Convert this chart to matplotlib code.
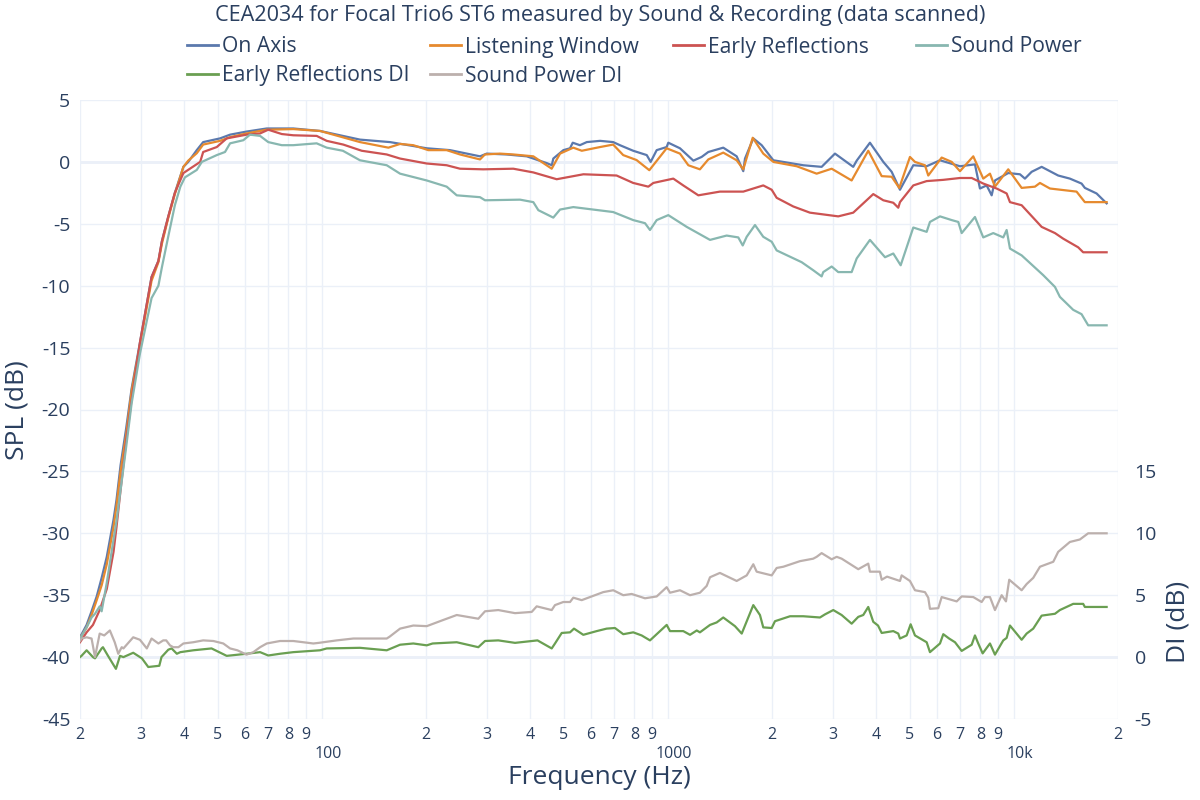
import matplotlib
matplotlib.use("Agg")
from matplotlib import pyplot as plt
from matplotlib.lines import Line2D
from matplotlib.transforms import ScaledTranslation

plt.rcParams['font.family'] = ['Open Sans', 'DejaVu Sans']
plt.rcParams['axes.unicode_minus'] = False

TEXT = '#2a3f5f'
GRID = '#ebf0f8'

title = "CEA2034 for Focal Trio6 ST6 measured by Sound & Recording (data scanned)"

# On Axis
on_axis_f = [20, 20.9, 21.6, 22.35, 23.1, 23.9, 25.0, 25.5, 26.2, 27.2,
             28.2, 29.8, 32.2, 33.7, 34.5, 36.0, 37.6, 39.8, 41.1, 43.5,
             45.4, 50.8, 54.3, 60.6, 69.3, 82.7, 98.8, 128.9, 157.4, 201,
             234.7, 286.5, 299.6, 342, 391, 408.5, 447, 462, 466.6, 499,
             521.5, 531, 557, 583, 637, 695, 727, 794, 869, 892,
             928.5, 992, 1003, 1084, 1185, 1252, 1309, 1446, 1581, 1652,
             1671, 1766, 1867, 2018, 2462, 2783, 3041, 3434, 3514, 3838,
             4195, 4435, 4687, 5121, 5598, 6117, 6988, 7720, 7981, 8345,
             8628, 8819, 9634, 10415, 10766, 11258, 12033, 13432, 14520, 15694,
             16042, 17343, 18543]
on_axis = [-38.4, -37.4, -36.3, -35.1, -33.6, -31.9, -28.9, -27.3, -24.5, -21.5,
           -18.3, -14.6, -9.3, -8.0, -6.4, -4.4, -2.5, -0.4, 0.0, 0.95,
           1.6, 1.9, 2.2, 2.45, 2.7, 2.7, 2.5, 1.8, 1.6, 1.1,
           0.95, 0.45, 0.67, 0.6, 0.45, 0.27, -0.1, -0.27, 0.27, 0.95,
           1.1, 1.55, 1.35, 1.6, 1.7, 1.6, 1.35, 0.9, 0.55, 0.0,
           0.95, 1.2, 1.55, 1.1, 0.1, 0.4, 0.8, 1.15, 0.45, -0.75,
           0.27, 1.9, 1.35, 0.13, -0.27, -0.4, 0.67, -0.4, 0.1, 1.55,
           0.0, -0.8, -2.25, -0.27, -0.35, 0.13, -0.35, -0.2, -2.15, -1.9,
           -2.7, -1.5, -0.9, -1.0, -1.35, -0.8, -0.4, -1.1, -1.35, -1.75,
           -2.1, -2.55, -3.35]

# Listening Window
lw_f = [20, 20.9, 21.6, 22.35, 23.1, 23.9, 25.0, 25.5, 26.2, 27.2,
        28.2, 29.8, 32.2, 33.7, 34.5, 36.0, 37.6, 39.8, 41.1, 43.5,
        45.4, 50.8, 54.3, 60.6, 69.3, 82.7, 98.8, 128.9, 155.7, 168.3,
        183.8, 203, 229.5, 250.8, 286.5, 296, 327, 358, 408.5, 461.7,
        488, 533, 564, 637, 695, 743, 812, 884, 992, 1084,
        1146, 1238, 1309, 1446, 1581, 1652, 1759, 1887, 2018, 2357,
        2692, 2975, 3398, 3795, 4150, 4435, 4665, 5009, 5179, 5535,
        5658, 6186, 6613, 6988, 7634, 8158, 8531, 8819, 9634, 10533,
        11507, 11898, 12716, 15180, 16042, 18543]
listening_window = [-38.5, -37.6, -36.6, -35.4, -34.2, -32.5, -29.5, -27.8, -25.0, -22.0,
                    -18.5, -14.8, -9.6, -8.1, -6.6, -4.5, -2.6, -0.4, 0.1, 0.7,
                    1.4, 1.7, 2.0, 2.3, 2.6, 2.65, 2.5, 1.6, 1.15, 1.45,
                    1.35, 0.95, 0.95, 0.6, 0.2, 0.6, 0.67, 0.6, 0.45, -0.55,
                    0.67, 1.15, 0.9, 1.2, 1.4, 0.55, 0.15, -0.67, 1.1, 0.67,
                    -0.27, -0.6, 0.2, 0.75, 0.13, -0.6, 1.95, 0.67, 0.0, -0.35,
                    -0.95, -0.55, -1.5, 0.9, -1.15, -1.2, -2.1, 0.4, 0.0, -0.27,
                    -1.1, 0.35, 0.0, -0.75, 0.45, -1.35, -0.95, -2.0, -0.6, -2.1,
                    -2.0, -1.7, -2.15, -2.4, -3.25, -3.25]

# Early Reflections
er_f = [20, 20.9, 21.8, 22.8, 23.9, 25.0, 25.5, 26.2, 27.2, 28.2,
        29.8, 32.2, 33.7, 34.5, 36.0, 37.6, 39.8, 44.5, 45.4, 49.7,
        53.1, 60.6, 66.3, 70.0, 76.6, 82.7, 96.6, 103.3, 115.3, 130.4,
        154, 168.3, 201, 229.5, 250.8, 292.8, 357.6, 408.5, 477.3, 510,
        570, 711, 794, 878, 908, 1037, 1108, 1225, 1414, 1652,
        1887, 1996, 2063, 2304, 2574, 3108, 3434, 3671, 3924, 4195,
        4483, 4634, 4687, 5121, 5598, 6253, 6988, 7553, 8158, 8919,
        9532, 9745, 10533, 12033, 13148, 13888, 15345, 15862, 18543]
early_reflections = [-38.8, -38.0, -37.4, -36.2, -34.5, -31.5, -29.5, -26.5, -22.5, -19.2,
                     -14.6, -9.3, -8.0, -6.4, -4.4, -2.5, -0.9, 0.0, 0.8, 1.2,
                     1.9, 2.2, 2.3, 2.6, 2.25, 2.15, 2.1, 1.7, 1.4, 0.9,
                     0.6, 0.27, -0.13, -0.27, -0.55, -0.6, -0.55, -0.85, -1.4, -1.25,
                     -1.0, -1.1, -1.7, -2.0, -1.7, -1.35, -1.9, -2.7, -2.4, -2.4,
                     -1.9, -2.25, -2.9, -3.6, -4.1, -4.4, -4.1, -3.35, -2.6, -3.1,
                     -3.3, -3.7, -3.25, -1.9, -1.55, -1.45, -1.3, -1.3, -1.75, -2.15,
                     -2.55, -3.25, -3.5, -5.25, -5.75, -6.2, -6.9, -7.3, -7.3]

# Sound Power
sp_f = [20, 20.9, 21.6, 22.1, 22.8, 23.1, 23.9, 25.0, 25.5, 26.2,
        27.2, 28.2, 29.8, 32.2, 33.7, 34.5, 36.0, 37.6, 39.0, 40.2,
        43.5, 45.0, 49.7, 52.5, 54.3, 59.3, 62.0, 66.3, 70.0, 76.6,
        82.7, 96.6, 103.3, 115, 128.9, 154, 168.3, 201, 229.5, 245.4,
        286.5, 296.2, 373.9, 408.5, 422.4, 466.6, 487.9, 533, 695, 794,
        859, 888, 928.5, 1003, 1134, 1324, 1479, 1598, 1646, 1690,
        1786, 1887, 1996, 2063, 2436, 2631, 2783, 2813, 2975, 3108,
        3398, 3514, 3838, 4243, 4483, 4709, 5121, 5598, 5722, 6117,
        6613, 6909, 7067, 7720, 8158, 8720, 9320, 9532, 9745, 10533,
        12161, 13148, 13584, 14844, 15694, 16400, 18543]
sound_power = [-38.5, -37.6, -36.8, -36.5, -35.9, -36.3, -34.0, -30.5, -29.0, -26.5,
               -23.0, -19.5, -15.5, -11.0, -10.0, -8.5, -6.0, -3.5, -2.0, -1.25,
               -0.65, 0.0, 0.55, 0.8, 1.5, 1.75, 2.2, 2.1, 1.6, 1.35,
               1.35, 1.5, 1.15, 0.9, 0.13, -0.27, -0.95, -1.5, -2.0, -2.7,
               -2.85, -3.1, -3.05, -3.25, -3.9, -4.5, -3.85, -3.65, -4.05, -4.7,
               -4.95, -5.5, -4.7, -4.3, -5.25, -6.3, -5.95, -6.1, -6.75, -6.05,
               -5.1, -6.05, -6.45, -7.15, -8.1, -8.75, -9.25, -8.9, -8.45, -8.9,
               -8.9, -7.8, -6.3, -7.7, -7.4, -8.35, -5.3, -5.65, -4.85, -4.4,
               -4.7, -4.85, -5.75, -4.45, -6.1, -5.75, -6.1, -5.5, -7.0, -7.55,
               -9.15, -10.1, -10.9, -11.95, -12.3, -13.2, -13.2]

# Early Reflections DI (right axis)
erdi_f = [20, 20.2, 20.9, 21.8, 22.1, 23.1, 23.3, 24.1, 25.4, 26.1,
          26.7, 28.5, 30.2, 31.5, 33.9, 34.4, 36.0, 36.8, 38.1, 39.0,
          42.5, 48.0, 53.1, 60.6, 66.3, 70.0, 75.7, 82.7, 98.8, 103.3,
          128.9, 154, 168.3, 183.8, 201, 209, 245.4, 283.3, 296.2, 323.6,
          361.7, 420, 461.7, 471.9, 493.5, 521.5, 535.5, 569.7, 622.8, 665.6,
          703.3, 743.3, 794.4, 840, 888, 992.4, 1014.5, 1108, 1159, 1212,
          1238, 1324, 1384, 1446, 1563, 1635, 1671, 1766, 1846, 1887,
          1996, 2040, 2255, 2462, 2752, 2845, 3007, 3179, 3398, 3551,
          3671, 3795, 3924, 4050, 4150, 4483, 4634, 4687, 4900, 5032,
          5179, 5598, 5722, 6117, 6253, 6500, 6760, 7067, 7553, 7720,
          7891, 8126, 8531, 8819, 9320, 9532, 9745, 10533, 10888, 11378,
          12033, 13148, 13584, 14844, 15862, 16042, 18543]
er_di = [0.0, 0.1, 0.55, 0.0, -0.1, 0.7, 0.8, 0.1, -0.95, 0.1,
         0.0, 0.35, -0.1, -0.8, -0.7, 0.0, 0.6, 0.7, 0.27, 0.4,
         0.55, 0.7, 0.1, 0.27, 0.4, 0.13, 0.27, 0.4, 0.55, 0.7,
         0.75, 0.55, 1.0, 1.1, 0.95, 1.1, 1.2, 0.8, 1.3, 1.35,
         1.15, 1.35, 0.7, 1.1, 1.95, 2.0, 2.3, 1.8, 2.1, 2.3,
         2.35, 1.85, 2.0, 1.75, 1.35, 2.6, 2.1, 2.1, 1.8, 2.15,
         2.0, 2.6, 2.8, 3.2, 2.5, 1.9, 2.55, 4.2, 3.4, 2.4,
         2.35, 2.9, 3.3, 3.3, 3.2, 3.45, 3.8, 3.4, 2.7, 3.25,
         3.4, 4.05, 2.85, 2.55, 1.95, 2.1, 1.9, 1.5, 1.75, 2.65,
         1.75, 1.2, 0.4, 1.1, 1.85, 1.5, 1.2, 0.5, 1.0, 1.75,
         1.1, 0.3, 1.1, 0.2, 1.35, 1.55, 2.55, 1.4, 1.9, 2.3,
         3.35, 3.5, 3.8, 4.3, 4.3, 4.05, 4.05]

# Sound Power DI (right axis)
spdi_f = [20, 20.2, 20.9, 21.6, 22.1, 22.8, 23.5, 24.4, 25.2, 25.8,
          26.4, 26.7, 28.5, 29.8, 31.2, 32.2, 33.7, 34.8, 35.5, 36.4,
          37.2, 38.5, 39.8, 42.5, 45.4, 48.6, 51.9, 54.3, 57, 60.6,
          63.4, 66.3, 69.3, 75.7, 82.7, 94.5, 98, 110.4, 123.3, 154,
          157, 168.3, 183.8, 201, 224.4, 234.7, 245.4, 283.3, 296.2, 323.6,
          361.7, 404.2, 417.8, 461.7, 471.9, 498.7, 521.5, 533, 563.7, 595.7,
          650.7, 695.4, 743.3, 786, 859, 928.5, 992.4, 1014.5, 1084, 1159,
          1238, 1295, 1324, 1414, 1581, 1690, 1766, 1806, 1996, 2063,
          2157, 2409, 2631, 2692, 2783, 2975, 3076, 3180, 3551, 3795,
          3838, 4100, 4150, 4300, 4687, 4740, 5009, 5179, 5535, 5658,
          5722, 6048, 6186, 6836, 7067, 7634, 8072, 8251, 8531, 8819,
          9222, 9489, 9698, 10533, 10888, 11378, 11898, 13000, 13432, 14520,
          15518, 16400, 18543]
sp_di = [1.3, 1.5, 1.6, 1.5, 0.0, 1.9, 1.75, 2.15, 1.2, 0.27,
         0.8, 0.7, 1.6, 1.4, 0.7, 1.5, 1.1, 1.35, 1.35, 0.95,
         0.8, 0.8, 1.1, 1.2, 1.35, 1.3, 1.1, 0.7, 0.55, 0.2,
         0.4, 0.8, 1.1, 1.3, 1.3, 1.1, 1.15, 1.35, 1.5, 1.5,
         1.65, 2.3, 2.55, 2.5, 3.0, 3.2, 3.4, 3.1, 3.7, 3.8,
         3.55, 3.65, 4.1, 3.8, 4.2, 4.45, 4.45, 4.8, 4.6, 4.85,
         5.25, 5.4, 5.0, 5.1, 4.75, 4.9, 5.65, 5.2, 5.4, 5.0,
         5.2, 5.75, 6.45, 6.8, 6.15, 6.6, 7.5, 6.9, 6.6, 7.2,
         7.3, 7.75, 7.95, 8.1, 8.4, 7.9, 8.1, 7.95, 7.1, 7.55,
         6.9, 6.9, 6.25, 6.5, 6.15, 6.6, 6.15, 5.4, 5.25, 4.8,
         3.9, 3.95, 4.85, 4.5, 4.9, 4.85, 4.45, 4.85, 4.85, 3.8,
         5.0, 4.5, 6.25, 5.4, 5.9, 6.4, 7.3, 7.7, 8.5, 9.3,
         9.5, 10.0, 10.0]

colors = ['#5b79ad', '#e68a2e', '#cc5352', '#88b7b0', '#6a9f52', '#bcb0ad']
labels = ['On Axis', 'Listening Window', 'Early Reflections', 'Sound Power',
          'Early Reflections DI', 'Sound Power DI']
decades = [100, 1000, 10000]
decade_labels = ['100', '1000', '10k']

fig = plt.figure(figsize=(12, 8), dpi=100)
ax = fig.add_axes([80 / 1200, 81 / 800, 1038 / 1200, 619 / 800])
ax2 = ax.twinx()

ax.set_xscale('log')
ax.set_xlim(20, 20000)
ax.set_ylim(-45, 5)
ax2.set_ylim(-5, 45)

# x ticks like plotly: 2..9 in each decade, decade name on a second row
pos, lab = [], []
for dec in (10, 100, 1000):
    for m in range(2, 10):
        pos.append(m * dec)
        lab.append(str(m))
pos.append(20000)
lab.append('2')
ax.set_xticks(pos, lab)
ax.set_xticks(decades, minor=True)
ax.tick_params(axis='x', which='minor', length=0, labelbottom=False)
shift = ScaledTranslation(6 / 100, 0, fig.dpi_scale_trans)
for p, t in zip(decades, decade_labels):
    ax.text(p, -0.044, t, transform=ax.get_xaxis_transform() + shift,
            ha='center', va='top', fontsize=11.5, color=TEXT)

ax.set_yticks(range(-45, 6, 5))
ax2.set_yticks([-5, 0, 5, 10, 15])

ax.grid(True, which='both', axis='x', color=GRID, lw=1, zorder=0)
ax.grid(True, axis='y', color=GRID, lw=1, zorder=0)
ax.axhline(0, color=GRID, lw=2, zorder=1)
ax.axhline(-40, color=GRID, lw=2, zorder=1)

for a in (ax, ax2):
    for s in a.spines.values():
        s.set_visible(False)
ax.tick_params(axis='x', which='major', length=0, pad=6, labelsize=11.5, colors=TEXT)
ax.tick_params(axis='y', length=0, pad=7, labelsize=14, colors=TEXT)
ax2.tick_params(axis='y', length=0, pad=12, labelsize=14, colors=TEXT)

ax.plot(on_axis_f, on_axis, color=colors[0], lw=1.6, zorder=3)
ax.plot(lw_f, listening_window, color=colors[1], lw=1.6, zorder=3)
ax.plot(er_f, early_reflections, color=colors[2], lw=1.6, zorder=3)
ax.plot(sp_f, sound_power, color=colors[3], lw=1.6, zorder=3)
ax2.plot(erdi_f, er_di, color=colors[4], lw=1.6, zorder=3)
ax2.plot(spdi_f, sp_di, color=colors[5], lw=1.6, zorder=3)

fig.text(0.5, 1 - 16 / 800, title, ha='center', va='center', fontsize=15.6, color=TEXT)
fig.text(599 / 1200, 1 - 778 / 800, 'Frequency (Hz)', ha='center', va='center',
         fontsize=19, color=TEXT)
fig.text(17 / 1200, 1 - 410 / 800, 'SPL (dB)', ha='center', va='center',
         rotation=90, fontsize=19, color=TEXT)
fig.text(1178 / 1200, 1 - 622 / 800, 'DI (dB)', ha='center', va='center',
         rotation=90, fontsize=19, color=TEXT)

# legend laid out like the plotly one
slots = [(187, 45), (430, 45), (673, 45), (916, 45), (187, 74), (430, 74)]
for (x0, y0), c, t in zip(slots, colors, labels):
    fy = 1 - y0 / 800
    fig.add_artist(Line2D([x0 / 1200, (x0 + 31) / 1200], [fy, fy], color=c, lw=2))
    fig.text((x0 + 35) / 1200, 1 - (y0 + 2) / 800, t, ha='left', va='center',
             fontsize=15.2, color=TEXT)

fig.savefig('out.png', dpi=100, facecolor='white')
